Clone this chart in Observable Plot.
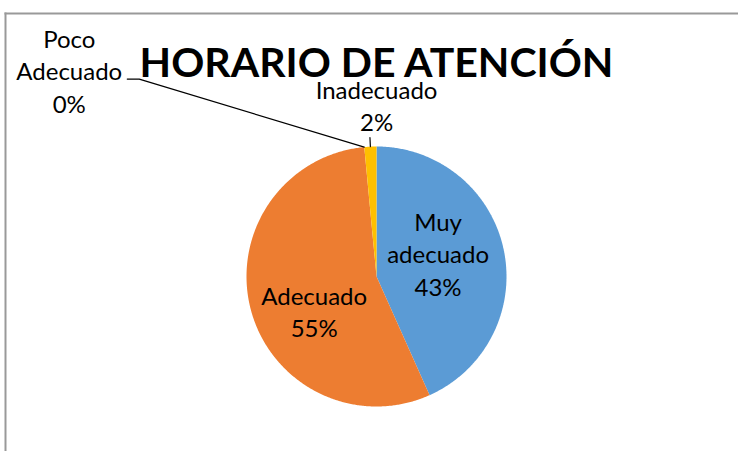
<!DOCTYPE html>
<html><head><meta charset="utf-8">
<script src="https://cdn.jsdelivr.net/npm/d3@7"></script>
<script src="https://cdn.jsdelivr.net/npm/@observablehq/plot@0.6"></script>
<style>body{margin:0;background:#fff}</style>
</head><body><div id="chart"></div>
<script>
const title = "HORARIO DE ATENCIÓN";
const categories = ["Muy adecuado", "Adecuado", "Poco Adecuado", "Inadecuado"];
const values = [43.3, 55.2, 0, 1.5];
const labelNames = ["Muy\nadecuado", "Adecuado", "Poco\nAdecuado", "Inadecuado"];
const colors = ["#5B9BD5", "#ED7D31", "#A5A5A5", "#FFC000"];

const R = 130; // pixels per unit radius
const CX = 376, CY = 276;
const total = d3.sum(values);
let acc = 0;
const slices = categories.map((c, i) => {
  const a0 = acc / total * 2 * Math.PI; acc += values[i];
  const a1 = acc / total * 2 * Math.PI;
  return {c, i, a0, a1, mid: (a0 + a1) / 2, v: values[i]};
});
const pts = [];
for (const s of slices) {
  if (s.v <= 0) continue;
  pts.push({c: s.c, x: 0, y: 0});
  const n = Math.max(2, Math.ceil((s.a1 - s.a0) / (Math.PI / 360)));
  for (let k = 0; k <= n; k++) {
    const a = s.a0 + (s.a1 - s.a0) * k / n;
    pts.push({c: s.c, x: Math.sin(a), y: Math.cos(a)});
  }
}
function place(angle, r, dxPx, dyPx) {
  return {x: r * Math.sin(angle) + dxPx / R, y: r * Math.cos(angle) - dyPx / R};
}
const placement = {
  "Muy adecuado": s => place(s.mid, 0.5, -2, -10),
  "Adecuado": s => place(s.mid, 0.48, -2, 18),
  "Inadecuado": s => place(s.mid, 1.3, 8, -3),
  "Poco Adecuado": s => place(s.a0, 1, -295, -77)
};
const labels = slices.map(s => ({
  ...placement[s.c](s),
  text: labelNames[s.i] + "\n" + Math.round(s.v / total * 100) + "%"
}));
const sPoco = slices[2], sIna = slices[3];
const leaders = [
  {g: "p", ...place(sPoco.a0, 1, 0, 0)},
  {g: "p", ...place(sPoco.a0, 1, -225, -68)},
  {g: "p", ...place(sPoco.a0, 1, -237, -68)},
  {g: "i", ...place(sIna.mid, 1.0, 0, 0)},
  {g: "i", ...place(sIna.mid, 1.07, 0, 0)}
];

const chart = Plot.plot({
  width: 738, height: 451,
  marginTop: 13, marginLeft: 5, marginRight: 0, marginBottom: 0,
  x: {domain: [-1, 1], range: [CX - R, CX + R], axis: null},
  y: {domain: [-1, 1], range: [CY + R, CY - R], axis: null},
  color: {domain: categories, range: colors},
  style: {fontFamily: "Lato", background: "#fff"},
  marks: [
    Plot.frame({anchor: "top", stroke: "#999", strokeWidth: 2}),
    Plot.frame({anchor: "left", stroke: "#999", strokeWidth: 2}),
    Plot.line(pts, {x: "x", y: "y", z: "c", fill: "c", stroke: "none", curve: "linear-closed"}),
    Plot.line(leaders, {x: "x", y: "y", z: "g", stroke: "#000", strokeWidth: 1.2}),
    Plot.text(labels, {x: "x", y: "y", text: "text", fontSize: 24, lineHeight: 1.35, fill: "#000", textAnchor: "middle"}),
    Plot.text([title], {x: () => 0, y: () => (CY - 63) / R, text: d => d, fontSize: 41, fontWeight: "bold", fill: "#000", textAnchor: "middle"})
  ]
});
document.getElementById("chart").appendChild(chart);
</script>
</body></html>
